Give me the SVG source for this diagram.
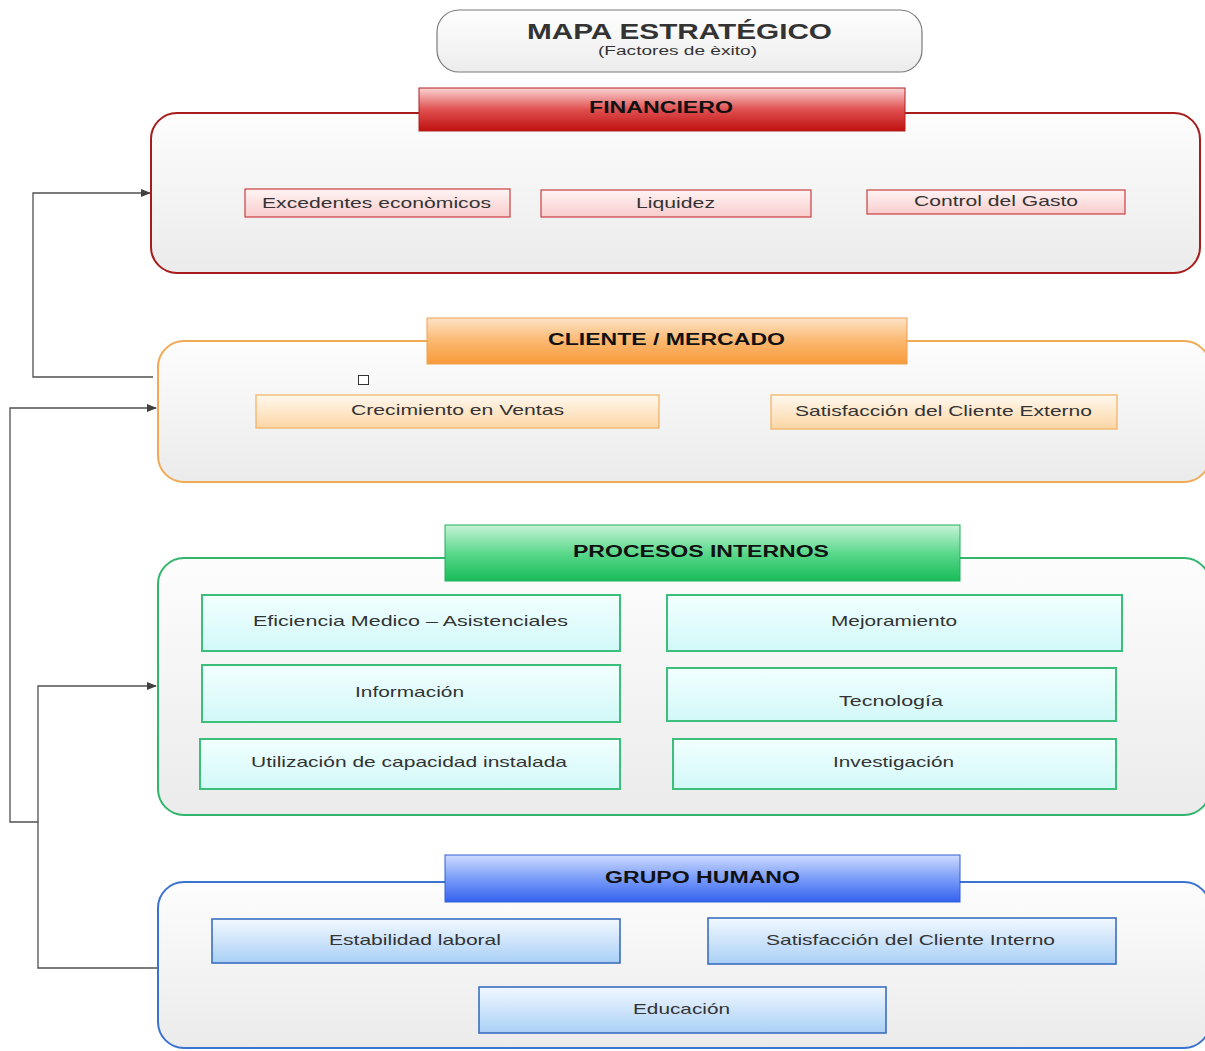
<svg xmlns="http://www.w3.org/2000/svg" width="1205" height="1051" viewBox="0 0 1205 1051">
<defs>
<linearGradient id="gCont" x1="0" y1="0" x2="0" y2="1"><stop offset="0" stop-color="#fdfdfd"/><stop offset="1" stop-color="#ebebeb"/></linearGradient>
<linearGradient id="gTitle" x1="0" y1="0" x2="0" y2="1"><stop offset="0" stop-color="#ffffff"/><stop offset="1" stop-color="#ececec"/></linearGradient>
<linearGradient id="gRedH" x1="0" y1="0" x2="0" y2="1"><stop offset="0" stop-color="#fbd4d4"/><stop offset="0.5" stop-color="#e05050"/><stop offset="1" stop-color="#c01010"/></linearGradient>
<linearGradient id="gRedB" x1="0" y1="0" x2="0" y2="1"><stop offset="0" stop-color="#fff4f4"/><stop offset="1" stop-color="#f9cccc"/></linearGradient>
<linearGradient id="gOrgH" x1="0" y1="0" x2="0" y2="1"><stop offset="0" stop-color="#fde3c8"/><stop offset="0.5" stop-color="#fbb870"/><stop offset="1" stop-color="#f79a3a"/></linearGradient>
<linearGradient id="gOrgB" x1="0" y1="0" x2="0" y2="1"><stop offset="0" stop-color="#fff8ee"/><stop offset="1" stop-color="#fcd6a6"/></linearGradient>
<linearGradient id="gGrnH" x1="0" y1="0" x2="0" y2="1"><stop offset="0" stop-color="#c6f3d6"/><stop offset="0.5" stop-color="#5bd88c"/><stop offset="1" stop-color="#18bc58"/></linearGradient>
<linearGradient id="gGrnB" x1="0" y1="0" x2="0" y2="1"><stop offset="0" stop-color="#f2ffff"/><stop offset="1" stop-color="#d2f8f8"/></linearGradient>
<linearGradient id="gBluH" x1="0" y1="0" x2="0" y2="1"><stop offset="0" stop-color="#cfdcff"/><stop offset="0.5" stop-color="#7a9cf8"/><stop offset="1" stop-color="#3462f0"/></linearGradient>
<linearGradient id="gBluB" x1="0" y1="0" x2="0" y2="1"><stop offset="0" stop-color="#f2f8ff"/><stop offset="1" stop-color="#a9d0f6"/></linearGradient>
<marker id="arr" markerWidth="10" markerHeight="8" refX="9" refY="4" orient="auto" markerUnits="userSpaceOnUse"><path d="M0,0 L10,4 L0,8 Z" fill="#404040"/></marker>
<style>
text{font-family:"Liberation Sans",Arial,sans-serif;fill:#333;}
.t{font-size:15px;}
.h{font-size:16px;font-weight:bold;fill:#111;}
.cont{stroke-width:2;fill:url(#gCont);}
.conn{fill:none;stroke:#505050;stroke-width:1.3;}
</style>
</defs>

<g id="connectors">
<path class="conn" d="M153,377 H33 V193 H150" marker-end="url(#arr)"/>
<path class="conn" d="M158,968 H38 V822 H10 V408 H156" marker-end="url(#arr)"/>
<path class="conn" d="M38,822 V686 H156" marker-end="url(#arr)"/>
</g>

<g id="title">
<rect x="437" y="10" width="485" height="62" rx="22" fill="url(#gTitle)" stroke="#7a7a7a" stroke-width="1.2"/>
<text x="679.5" y="39" text-anchor="middle" font-size="22" font-weight="bold" fill="#111" textLength="305" lengthAdjust="spacingAndGlyphs">MAPA ESTRATÉGICO</text>
<text x="677.5" y="55" text-anchor="middle" font-size="12" textLength="159" lengthAdjust="spacingAndGlyphs">(Factores de èxito)</text>
</g>

<g id="financiero">
<rect class="cont" x="151" y="113" width="1049" height="160" rx="26" stroke="#a81c1c"/>
<rect x="419" y="88" width="486" height="43" fill="url(#gRedH)" stroke="#b02020" stroke-width="1"/>
<text class="h" x="661" y="113" text-anchor="middle" textLength="144" lengthAdjust="spacingAndGlyphs">FINANCIERO</text>
</g>
<g id="excedentes">
<rect x="245" y="189" width="265" height="28" fill="url(#gRedB)" stroke="#c84040" stroke-width="1.2"/>
<text class="t" x="376.5" y="208" text-anchor="middle" textLength="229" lengthAdjust="spacingAndGlyphs">Excedentes econòmicos</text>
</g>
<g id="liquidez">
<rect x="541" y="190" width="270" height="27" fill="url(#gRedB)" stroke="#c84040" stroke-width="1.2"/>
<text class="t" x="675.5" y="208" text-anchor="middle" textLength="79" lengthAdjust="spacingAndGlyphs">Liquidez</text>
</g>
<g id="control">
<rect x="867" y="190" width="258" height="24" fill="url(#gRedB)" stroke="#c84040" stroke-width="1.2"/>
<text class="t" x="996" y="206" text-anchor="middle" textLength="164" lengthAdjust="spacingAndGlyphs">Control del Gasto</text>
</g>

<g id="cliente">
<rect class="cont" x="158" y="341" width="1052" height="141" rx="26" stroke="#f0aa55"/>
<rect x="427" y="318" width="480" height="46" fill="url(#gOrgH)" stroke="#f0a050" stroke-width="1"/>
<text class="h" x="666.5" y="345" text-anchor="middle" textLength="237" lengthAdjust="spacingAndGlyphs">CLIENTE / MERCADO</text>
<rect x="358.5" y="375.5" width="10" height="9" fill="#fff" stroke="#333" stroke-width="1"/>
</g>
<g id="crecimiento">
<rect x="256" y="395" width="403" height="33" fill="url(#gOrgB)" stroke="#f0b060" stroke-width="1.2"/>
<text class="t" x="457.5" y="415" text-anchor="middle" textLength="213" lengthAdjust="spacingAndGlyphs">Crecimiento en Ventas</text>
</g>
<g id="satExterno">
<rect x="771" y="395" width="346" height="34" fill="url(#gOrgB)" stroke="#f0b060" stroke-width="1.2"/>
<text class="t" x="943.5" y="416" text-anchor="middle" textLength="297" lengthAdjust="spacingAndGlyphs">Satisfacción del Cliente Externo</text>
</g>

<g id="procesos">
<rect class="cont" x="158" y="558" width="1052" height="257" rx="26" stroke="#2fb56c"/>
<rect x="445" y="525" width="515" height="56" fill="url(#gGrnH)" stroke="#20b060" stroke-width="1"/>
<text class="h" x="701" y="557" text-anchor="middle" textLength="256" lengthAdjust="spacingAndGlyphs">PROCESOS INTERNOS</text>
</g>
<g id="eficiencia">
<rect x="202" y="595" width="418" height="56" fill="url(#gGrnB)" stroke="#3cbf7a" stroke-width="2"/>
<text class="t" x="410.5" y="626" text-anchor="middle" textLength="315" lengthAdjust="spacingAndGlyphs">Eficiencia  Medico – Asistenciales</text>
</g>
<g id="mejoramiento">
<rect x="667" y="595" width="455" height="56" fill="url(#gGrnB)" stroke="#3cbf7a" stroke-width="2"/>
<text class="t" x="894" y="626" text-anchor="middle" textLength="126" lengthAdjust="spacingAndGlyphs">Mejoramiento</text>
</g>
<g id="informacion">
<rect x="202" y="665" width="418" height="57" fill="url(#gGrnB)" stroke="#3cbf7a" stroke-width="2"/>
<text class="t" x="409.5" y="697" text-anchor="middle" textLength="109" lengthAdjust="spacingAndGlyphs">Información</text>
</g>
<g id="tecnologia">
<rect x="667" y="668" width="449" height="53" fill="url(#gGrnB)" stroke="#3cbf7a" stroke-width="2"/>
<text class="t" x="891" y="706" text-anchor="middle" textLength="104" lengthAdjust="spacingAndGlyphs">Tecnología</text>
</g>
<g id="utilizacion">
<rect x="200" y="739" width="420" height="50" fill="url(#gGrnB)" stroke="#3cbf7a" stroke-width="2"/>
<text class="t" x="409" y="767" text-anchor="middle" textLength="316" lengthAdjust="spacingAndGlyphs">Utilización de capacidad instalada</text>
</g>
<g id="investigacion">
<rect x="673" y="739" width="443" height="50" fill="url(#gGrnB)" stroke="#3cbf7a" stroke-width="2"/>
<text class="t" x="893.5" y="767" text-anchor="middle" textLength="121" lengthAdjust="spacingAndGlyphs">Investigación</text>
</g>

<g id="grupoHumano">
<rect class="cont" x="158" y="882" width="1052" height="166" rx="26" stroke="#3a72d0"/>
<rect x="445" y="855" width="515" height="47" fill="url(#gBluH)" stroke="#2f60d8" stroke-width="1"/>
<text class="h" x="702.5" y="883" text-anchor="middle" textLength="195" lengthAdjust="spacingAndGlyphs">GRUPO HUMANO</text>
</g>
<g id="estabilidad">
<rect x="212" y="919" width="408" height="44" fill="url(#gBluB)" stroke="#3a6fc0" stroke-width="1.6"/>
<text class="t" x="415" y="945" text-anchor="middle" textLength="172" lengthAdjust="spacingAndGlyphs">Estabilidad laboral</text>
</g>
<g id="satInterno">
<rect x="708" y="918" width="408" height="46" fill="url(#gBluB)" stroke="#3a6fc0" stroke-width="1.6"/>
<text class="t" x="910.5" y="945" text-anchor="middle" textLength="289" lengthAdjust="spacingAndGlyphs">Satisfacción del Cliente Interno</text>
</g>
<g id="educacion">
<rect x="479" y="987" width="407" height="46" fill="url(#gBluB)" stroke="#3a6fc0" stroke-width="1.6"/>
<text class="t" x="681.5" y="1014" text-anchor="middle" textLength="97" lengthAdjust="spacingAndGlyphs">Educación</text>
</g>
</svg>
